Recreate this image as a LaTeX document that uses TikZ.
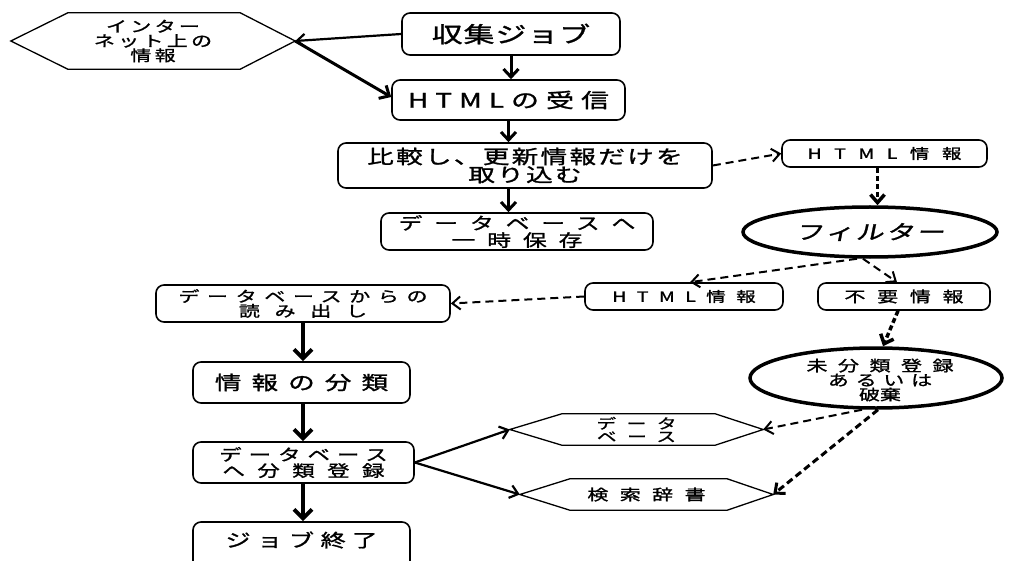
\documentclass[tikz,border=0pt]{standalone}
\usepackage{fontspec}
\newfontfamily\jp{Noto Sans CJK JP}[FakeBold=1.3,FakeStretch=1.4]
\usetikzlibrary{arrows.meta,calc,shapes.geometric}
\newcommand\jpf[3]{\jp\fontsize{#1}{#2}\selectfont\addfontfeature{LetterSpace=#3}}
\newcommand\lsp[1]{\addfontfeature{LetterSpace=#1}}
\begin{document}
\begin{tikzpicture}[x=1pt,y=-1pt,
 box/.style={draw,line width=1.6pt,rounded corners=8pt,inner sep=0pt,align=center},
 oval/.style={draw,ellipse,line width=3.5pt,inner sep=0pt},
 txt/.style={inner sep=0pt,align=center},
 hexline/.style={line width=1.3pt,line join=miter},
 flow/.style={line width=4pt,-{Straight Barb[length=9pt,width=18pt]}},
 flowthin/.style={line width=3pt,-{Straight Barb[length=8pt,width=15pt]}},
 link/.style={line width=2.2pt,-{Straight Barb[length=8pt,width=13pt]}},
 dlink/.style={line width=2pt,dash pattern=on 8pt off 5pt,-{Straight Barb[length=8pt,width=13pt]}},
 dotlink/.style={line width=3.5pt,dash pattern=on 5pt off 3pt,-{Straight Barb[length=8pt,width=14pt]}},
]
\useasboundingbox[fill=white] (0,0) rectangle (1011,561);

% hexagon: internet info
\node[txt, minimum width=284pt, minimum height=56pt, font={\jpf{15}{14.5}{22}}] (inet) at (153,41) {インター\\ネット上の\\情報};
\draw[hexline] (inet.west) -- ([xshift=57pt]inet.north west) -- ([xshift=-55pt]inet.north east) -- (inet.east)
  -- ([xshift=-55pt]inet.south east) -- ([xshift=57pt]inet.south west) -- cycle;

% main column top
\node[box, minimum width=218pt, minimum height=42pt, font={\jpf{22}{22}{5}}] (job) at (511,34) {収集ジョブ};
\node[box, minimum width=233pt, minimum height=40pt, font={\jpf{20}{20}{35}}] (recv) at (508.5,100) {HTMLの受信};
\node[box, minimum width=374pt, minimum height=45pt, font={\jpf{19}{17}{12}}] (cmp) at (525,165.5) {比較し、更新情報だけを\\取り込む};
\node[box, minimum width=272pt, minimum height=37pt, font={\jpf{17}{17}{70}}] (tmp) at (517,231.5) {データベースへ\\一時保存};

% right side
\node[box, minimum width=205pt, minimum height=27pt, font={\jpf{14}{14}{89}}] (html1) at (884.5,153.5) {HTML情報};
\node[oval, minimum width=254pt, minimum height=50pt, font={\jpf{20}{20}{12}\addfontfeature{FakeSlant=0.2}}] (filter) at (870,232) {フィルター};
\node[box, minimum width=198pt, minimum height=27pt, font={\jpf{14}{14}{74}}] (html2) at (684,296.5) {HTML情報};
\node[box, minimum width=172pt, minimum height=27pt, font={\jpf{15}{15}{78}}] (unn) at (904,296.5) {不要情報};
\node[oval, minimum width=252pt, minimum height=60pt] (mib) at (876,378) {};
\node[txt, font={\jpf{15}{14.5}{70}}] (mibt) at (880,380) {未分類登録\\\lsp{45}あるいは\\\lsp{0}破棄};

% lower left column
\node[box, minimum width=294pt, minimum height=37pt, font={\jpf{15}{13.5}{51}}] (read) at (303,303.5) {データベースからの\\\lsp{98}読み出し};
\node[box, minimum width=217pt, minimum height=41pt, font={\jpf{19}{19}{53}}] (cls) at (301.5,382.5) {情報の分類};
\node[box, minimum width=221pt, minimum height=41pt, font={\jpf{16}{16}{44}}] (reg) at (303.5,462.5) {データベース\\\lsp{78}へ分類登録};
\node[box, minimum width=217pt, minimum height=53pt] (fin) at (301.5,548.5) {};
\node[txt, font={\jpf{18}{18}{36}}] (fint) at (301.5,540) {ジョブ終了};

% hexagons lower
\node[txt, minimum width=253pt, minimum height=31pt, font={\jpf{14}{13}{76}}] (db) at (636.5,429.5) {データ\\ベース};
\draw[hexline] (db.west) -- ([xshift=52pt]db.north west) -- ([xshift=-48pt]db.north east) -- (db.east)
  -- ([xshift=-48pt]db.south east) -- ([xshift=52pt]db.south west) -- cycle;
\node[txt, minimum width=253pt, minimum height=31pt, font={\jpf{15}{15}{76}}] (dict) at (646.5,494.5) {検索辞書};
\draw[hexline] (dict.west) -- ([xshift=50pt]dict.north west) -- ([xshift=-46pt]dict.north east) -- (dict.east)
  -- ([xshift=-46pt]dict.south east) -- ([xshift=50pt]dict.south west) -- cycle;

% connectors
\draw[link] (job.west) -- (inet.east);
\draw[flowthin] (inet.east) -- ([yshift=3pt]recv.west);
\draw[flowthin] (job.south) -- (job.south |- recv.north);
\draw[flowthin] (recv.south) -- (recv.south |- cmp.north);
\draw[flowthin] (recv.south |- cmp.south) -- (recv.south |- tmp.north);
\draw[dlink] (cmp.east) -- (html1.west);
\draw[dotlink] ([xshift=-7pt]html1.south) -- ([xshift=-7pt]html1.south |- filter.north);
\draw[dlink] ([xshift=-13pt]filter.south) -- ([xshift=6pt]html2.north);
\draw[dlink] ([xshift=-7pt]filter.south) -- ([xshift=-7pt]unn.north);
\draw[dlink] (html2.west) -- (read.east);
\draw[dotlink] ([xshift=-6pt]unn.south) -- ([xshift=7pt]mib.north);
\draw[flow] (read.south) -- (read.south |- cls.north);
\draw[flow] (read.south |- cls.south) -- (read.south |- reg.north);
\draw[flow] (read.south |- reg.south) -- (read.south |- fin.north);
\draw[link] (reg.east) -- (db.west);
\draw[link] (reg.east) -- (dict.west);
\draw[dlink] ([xshift=-14pt]mib.south) -- (db.east);
\draw[line width=3pt,dash pattern=on 7pt off 4pt,-{Straight Barb[length=8pt,width=14pt]}] ([xshift=2pt]mib.south) -- (dict.east);
\end{tikzpicture}
\end{document}
